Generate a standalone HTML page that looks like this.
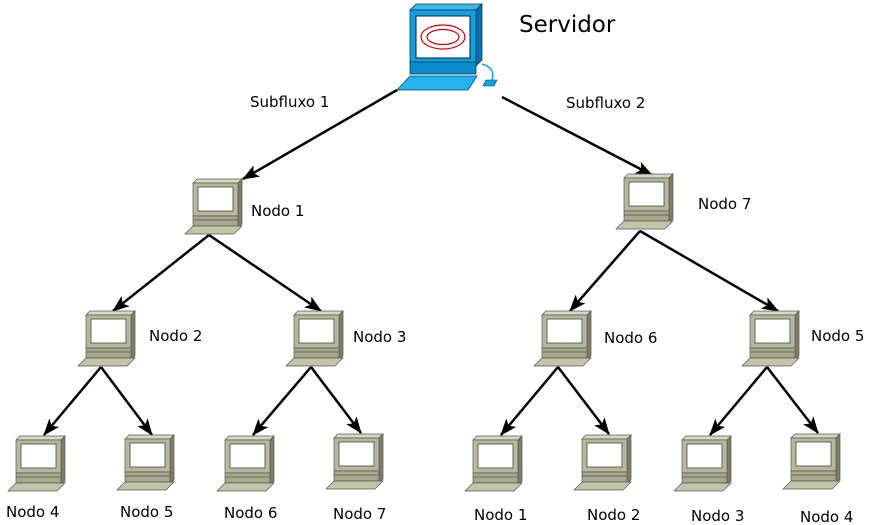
<!DOCTYPE html>
<html><head><style>body{margin:0;background:#fff}svg{display:block}text{font-family:"DejaVu Sans","Liberation Sans",sans-serif;font-size:15px;fill:#000}</style></head>
<body>
<svg width="871" height="525" viewBox="0 0 871 525" xmlns="http://www.w3.org/2000/svg">
<defs>
<marker id="a" markerWidth="17" markerHeight="13" refX="16" refY="6.5" orient="auto" markerUnits="userSpaceOnUse" viewBox="0 0 17 13">
<path d="M0,0 L17,6.5 L0,13 L4,6.5 Z" fill="#000"/></marker>
<g id="pc">
<polygon points="8,4 12,0 57,0 53,4" fill="#d8d8c4" stroke="#555" stroke-width="0.7"/>
<polygon points="53,4 57,0 57,45 53,49" fill="#7f7f68" stroke="#555" stroke-width="0.7"/>
<rect x="8" y="4" width="45" height="33" fill="#b8b89c" stroke="#555" stroke-width="0.7"/>
<rect x="13" y="8" width="35" height="24" fill="#fff" stroke="#444" stroke-width="0.8"/>
<rect x="8" y="37" width="45" height="10" fill="#a8a88c" stroke="#555" stroke-width="0.7"/>
<line x1="8" y1="41" x2="53" y2="41" stroke="#555" stroke-width="0.7"/>
<polygon points="0,55 8,47 57,47 49,55" fill="#c4c4aa" stroke="#555" stroke-width="0.7"/>
</g>
</defs>
<!-- server -->
<polygon points="410,10 416,4 482,4 476,10" fill="#3fb3ea" stroke="#046" stroke-width="0.8"/>
<polygon points="476,10 482,4 482,60 476,66" fill="#0a6fa8" stroke="#046" stroke-width="0.8"/>
<rect x="410" y="10" width="66" height="52" fill="#13a0e0" stroke="#046" stroke-width="0.8"/>
<rect x="416" y="16" width="54" height="42" fill="#fff" stroke="#024" stroke-width="1"/>
<ellipse cx="443" cy="37" rx="22" ry="12" fill="none" stroke="#c00" stroke-width="1.2"/>
<ellipse cx="443" cy="37" rx="16" ry="7.5" fill="none" stroke="#c00" stroke-width="1.2"/>
<rect x="410" y="62" width="66" height="12" fill="#0a8cc8" stroke="#046" stroke-width="0.8"/>
<polygon points="397,90 410,76 477,76 468,90" fill="#23b4f0" stroke="#046" stroke-width="0.8"/>
<path d="M482,64 Q496,68 492,80" fill="none" stroke="#13a0e0" stroke-width="1.5"/>
<polygon points="483,86 486,80 497,80 494,86" fill="#13a0e0" stroke="#046" stroke-width="0.6"/>
<text x="519" y="32" style="font-size:23px">Servidor</text>
<g stroke="#000" stroke-width="2.5" marker-end="url(#a)">
<line x1="397" y1="90" x2="243" y2="179"/>
<line x1="502" y1="97" x2="652" y2="175"/>
<line x1="209" y1="235" x2="113" y2="311"/>
<line x1="209" y1="235" x2="321" y2="311"/>
<line x1="640" y1="231" x2="570" y2="311"/>
<line x1="640" y1="231" x2="778" y2="311"/>
<line x1="101" y1="367" x2="44" y2="435"/>
<line x1="101" y1="367" x2="152" y2="435"/>
<line x1="311" y1="367" x2="253" y2="435"/>
<line x1="311" y1="367" x2="361" y2="433"/>
<line x1="558" y1="367" x2="501" y2="435"/>
<line x1="558" y1="367" x2="609" y2="434"/>
<line x1="767" y1="367" x2="710" y2="435"/>
<line x1="767" y1="367" x2="818" y2="433"/>
</g>
<use href="#pc" x="185" y="179"/>
<use href="#pc" x="616" y="174"/>
<use href="#pc" x="78" y="311"/>
<use href="#pc" x="286" y="311"/>
<use href="#pc" x="534" y="311"/>
<use href="#pc" x="742" y="311"/>
<use href="#pc" x="8" y="436"/>
<use href="#pc" x="117" y="435"/>
<use href="#pc" x="217" y="436"/>
<use href="#pc" x="326" y="434"/>
<use href="#pc" x="465" y="436"/>
<use href="#pc" x="574" y="435"/>
<use href="#pc" x="674" y="436"/>
<use href="#pc" x="783" y="434"/>
<text x="250" y="107">Subfluxo 1</text>
<text x="566" y="108">Subfluxo 2</text>
<text x="251" y="216">Nodo 1</text>
<text x="698" y="209">Nodo 7</text>
<text x="149" y="341">Nodo 2</text>
<text x="353" y="342">Nodo 3</text>
<text x="604" y="343">Nodo 6</text>
<text x="811" y="341">Nodo 5</text>
<text x="6" y="517">Nodo 4</text>
<text x="120" y="517">Nodo 5</text>
<text x="224" y="518">Nodo 6</text>
<text x="333" y="519">Nodo 7</text>
<text x="474" y="520">Nodo 1</text>
<text x="587" y="520">Nodo 2</text>
<text x="691" y="521">Nodo 3</text>
<text x="800" y="522">Nodo 4</text>
</svg>
</body></html>
